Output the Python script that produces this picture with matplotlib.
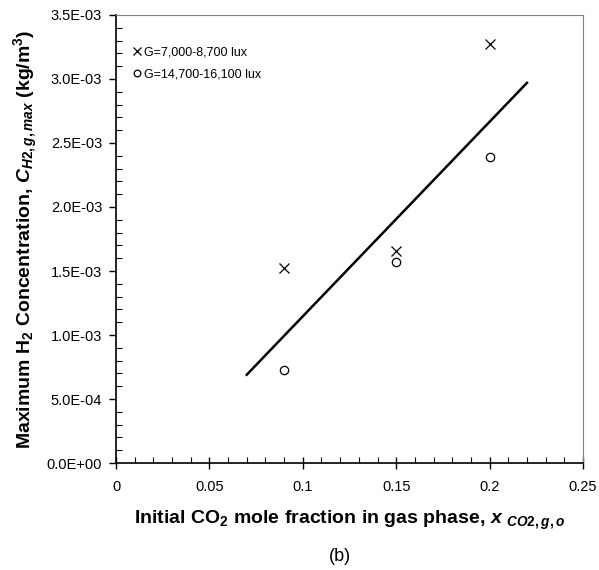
import matplotlib.pyplot as plt
from matplotlib.ticker import MultipleLocator

plt.rcParams['font.family'] = ['Liberation Sans', 'DejaVu Sans']
plt.rcParams['mathtext.fontset'] = 'custom'
plt.rcParams['mathtext.rm'] = 'Liberation Sans:bold'
plt.rcParams['mathtext.it'] = 'Liberation Sans:bold:italic'
plt.rcParams['mathtext.bf'] = 'Liberation Sans:bold'

x_co2 = [0.09, 0.15, 0.20]
h2_low = [1.52e-3, 1.66e-3, 3.27e-3]
h2_high = [0.73e-3, 1.57e-3, 2.39e-3]
fit_x = [0.07, 0.22]
fit_y = [0.69e-3, 2.97e-3]

fig = plt.figure(figsize=(5.99, 5.70), dpi=100)
ax = fig.add_axes([0.1937, 0.1877, 0.7796, 0.786])

ax.plot(x_co2, h2_low, 'x', color='black', markersize=7.5, mew=0.9,
        label='G=7,000-8,700 lux')
ax.plot(x_co2, h2_high, 'o', mfc='white', mec='black', markersize=6, mew=0.9,
        label='G=14,700-16,100 lux')
ax.plot(fit_x, fit_y, '-', color='black', lw=1.8)

ax.set_xlim(0, 0.25)
ax.set_ylim(0, 3.5e-3)
ax.xaxis.set_minor_locator(MultipleLocator(0.01))
ax.yaxis.set_minor_locator(MultipleLocator(0.1e-3))
ax.set_xticks([0, 0.05, 0.1, 0.15, 0.2, 0.25])
ax.set_xticklabels(['0', '0.05', '0.1', '0.15', '0.2', '0.25'])
ax.set_yticks([i * 0.5e-3 for i in range(8)])
ax.set_yticklabels(['0.0E+00', '5.0E-04', '1.0E-03', '1.5E-03', '2.0E-03',
                    '2.5E-03', '3.0E-03', '3.5E-03'])

ax.tick_params(axis='y', which='major', direction='out', length=5, width=1,
               labelsize=10.5, pad=5)
ax.tick_params(axis='x', which='major', direction='inout', length=8, width=1,
               labelsize=10.5, pad=8)
ax.tick_params(which='minor', direction='in', length=4, width=0.8)
ax.tick_params(top=False, right=False, which='both')
for s in ['top', 'right']:
    ax.spines[s].set_color('#808080')
for s in ['left', 'bottom']:
    ax.spines[s].set_linewidth(1.2)

ax.set_xlabel(r'Initial CO$_2$ mole fraction in gas phase, $x$ $_{CO2,g,o}$',
              fontsize=14, fontweight='bold', labelpad=11)
ax.set_ylabel(r'Maximum H$_2$ Concentration, $C_{H2,g,max}$ (kg/m$^3$)',
              fontsize=14, fontweight='bold', labelpad=5)

ax.legend(loc='upper left', bbox_to_anchor=(0.015, 0.95), frameon=False,
          fontsize=9, handlelength=0.8, handletextpad=0.2, labelspacing=0.8,
          borderaxespad=0.3, markerscale=0.8)

fig.text(0.567, 0.023, '(b)', ha='center', va='center', fontsize=13)

fig.savefig('out.png', dpi=100)
